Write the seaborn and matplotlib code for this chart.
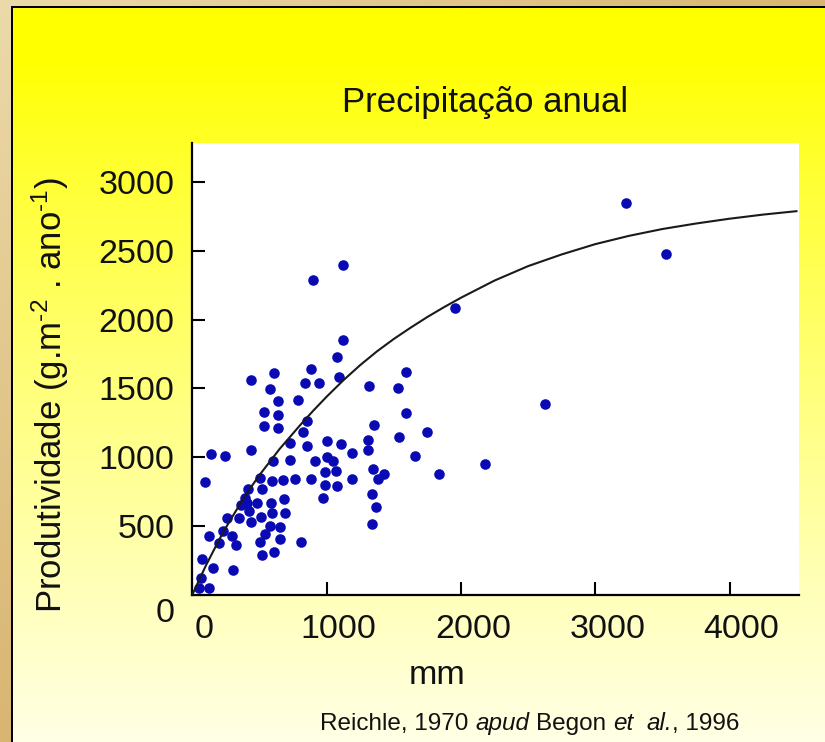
import numpy as np
import matplotlib
matplotlib.use("Agg")
import matplotlib.pyplot as plt
import seaborn as sns
from matplotlib.transforms import ScaledTranslation
from matplotlib.colors import to_rgb

# ---------------- data ----------------
precip_mm = [1120, 900, 1955, 3230, 3525, 2625, 2180, 1840, 1120, 1075,
             610, 885, 440, 835, 945, 1095, 1315, 1590, 1530, 575,
             635, 785, 1590, 530, 635, 850, 530, 635, 1350, 1750,
             825, 1540, 1005, 1305, 730, 1110, 850, 1305, 440, 1185,
             1655, 135, 240, 1000, 1045, 600, 730, 910, 1070, 985,
             1345, 1425, 1385, 95, 505, 595, 675, 765, 885, 1190,
             985, 1080, 515, 415, 1335, 975, 395, 480, 410, 680,
             585, 1365, 425, 510, 590, 690, 255, 350, 435, 1335,
             575, 655, 225, 295, 125, 540, 500, 655, 325, 200,
             810, 520, 610, 75, 155, 305, 65, 50, 125, 360]
produtividade = [2400, 2290, 2085, 2850, 2475, 1385, 950, 880, 1850, 1725,
                 1615, 1640, 1560, 1540, 1540, 1580, 1520, 1620, 1500, 1495,
                 1410, 1415, 1320, 1325, 1305, 1265, 1225, 1215, 1235, 1185,
                 1180, 1145, 1115, 1125, 1100, 1095, 1080, 1050, 1050, 1030,
                 1010, 1020, 1010, 1000, 970, 975, 980, 970, 900, 895,
                 915, 875, 840, 820, 845, 825, 835, 840, 840, 840,
                 795, 790, 770, 765, 730, 700, 700, 665, 665, 695,
                 665, 640, 610, 565, 590, 590, 560, 560, 525, 515,
                 495, 490, 460, 425, 425, 440, 380, 405, 360, 375,
                 380, 290, 310, 255, 195, 180, 120, 50, 45, 650]

curve_mm = [0, 50, 100, 150, 200, 250, 300, 400, 500, 650, 800, 900, 1000,
            1125, 1250, 1375, 1500, 1625, 1750, 1875, 2000, 2250, 2500,
            2750, 3000, 3250, 3500, 3750, 4000, 4250, 4500]
curve_prod = [0, 105, 210, 305, 400, 488, 570, 730, 870, 1060, 1230, 1338, 1440,
              1560, 1670, 1770, 1860, 1942, 2020, 2092, 2160, 2285, 2390,
              2475, 2550, 2610, 2660, 2700, 2735, 2765, 2790]

x_ticks = [0, 1000, 2000, 3000, 4000]
y_ticks = [0, 500, 1000, 1500, 2000, 2500, 3000]

title_text = "Precipitação anual"
xlabel_text = "mm"
ylabel_text = "Produtividade (g.m$^{\u2010 2}$ . ano$^{\u2010 1}$)"
source_parts = [("Reichle, 1970", "normal", 1.0),
                ("apud", "italic", 1.0),
                ("Begon", "normal", 1.0),
                ("et", "italic", 2.0),
                ("al.", "italic", 0.0),
                (", 1996", "normal", 0.0)]

# ---------------- style ----------------
sns.set_theme(style="white")
plt.rcParams["font.family"] = ["Liberation Sans", "DejaVu Sans"]
plt.rcParams["mathtext.fontset"] = "custom"
plt.rcParams["mathtext.rm"] = "Liberation Sans"
plt.rcParams["mathtext.it"] = "Liberation Sans:italic"
plt.rcParams["mathtext.bf"] = "Liberation Sans:bold"

W, H = 825, 742
fig = plt.figure(figsize=(W / 100, H / 100), dpi=100)

# ---- slide background as one pixel image: tan border, black frame, yellow panel
rows = np.arange(H)[:, None] / H
cols = np.arange(W)[None, :] / W
t = np.clip((rows + cols) * 0.75, 0, 1)[..., None]
light = np.array(to_rgb("#ECDAAA"))
dark = np.array(to_rgb("#D2A95E"))
img = light * (1 - t) + dark * t
img = np.broadcast_to(img, (H, W, 3)).copy()
fx, fy = 13, 8
fr = np.clip((np.arange(H) / H - 0.08) / 0.92, 0, 1) ** 0.85 * 0.9
img[fy:, fx:, 0] = 1.0
img[fy:, fx:, 1] = 1.0
img[fy:, fx:, 2] = fr[fy:, None]
img[fy - 2:fy, fx - 2:, :] = 0.0
img[fy - 2:, fx - 2:fx, :] = 0.0
bg = fig.add_axes([0, 0, 1, 1])
bg.set_axis_off()
bg.imshow(img, aspect="auto", interpolation="nearest", extent=[0, W, 0, H])
bg.set_xlim(0, W)
bg.set_ylim(0, H)

# main axes
x0, x1 = 192.4, 799
y0, y1 = 594.5, 143
ax = fig.add_axes([x0 / W, (H - y0) / H, (x1 - x0) / W, (y0 - y1) / H])
ax.set_facecolor("white")

sns.scatterplot(x=precip_mm, y=produtividade, color="#0A0AB5", s=58,
                linewidth=0, ax=ax, zorder=3, clip_on=False)
sns.lineplot(x=curve_mm, y=curve_prod, color="#1a1a1a", lw=1.5,
             estimator=None, sort=False, ax=ax, zorder=4)

ax.set_xlim(0, 4517)
ax.set_ylim(0, 3286)
ax.set_xticks(x_ticks)
ax.set_yticks(y_ticks)
ax.set_xticklabels([str(v) for v in x_ticks])
ax.set_yticklabels([str(v) for v in y_ticks])
ax.set_xlabel("")
ax.set_ylabel("")
ax.grid(False)
for s in ["top", "right"]:
    ax.spines[s].set_visible(False)
for s in ["left", "bottom"]:
    ax.spines[s].set_color("black")
    ax.spines[s].set_linewidth(1.6)

ax.tick_params(axis="both", direction="in", length=9.5, width=1.5,
               color="black", labelcolor="#111111", labelsize=24.5)
ax.tick_params(axis="x", bottom=True, pad=14)
ax.tick_params(axis="y", left=True, pad=13)

for lab in ax.get_xticklabels():
    lab.set_transform(lab.get_transform() +
                      ScaledTranslation(0.12, 0, fig.dpi_scale_trans))
ylabs = ax.get_yticklabels()
ylabs[0].set_transform(ylabs[0].get_transform() +
                       ScaledTranslation(0, -0.15, fig.dpi_scale_trans))

# texts
fig.text(485 / W, 1 - 112 / H, title_text, ha="center", va="baseline",
         fontsize=25, color="#111111")
fig.text(437 / W, 1 - 684 / H, xlabel_text, ha="center", va="baseline",
         fontsize=24.5, color="#111111")
fig.text(50 / W, 1 - 395 / H, ylabel_text, ha="center", va="center",
         rotation=90, fontsize=25, color="#111111")

# source line, laid out piece by piece (mixed italic)
renderer = fig.canvas.get_renderer()
src_fs = 17.5


def text_width(s, style):
    tt = fig.text(0, 0, s, fontsize=src_fs, style=style)
    w = tt.get_window_extent(renderer).width
    tt.remove()
    return w


space_w = text_width("a a", "normal") - text_width("aa", "normal")
widths = [text_width(s, st) for s, st, _ in source_parts]
total = sum(widths) + sum(g for _, _, g in source_parts) * space_w
xpos = 530 - total / 2
for (s, st, g), w in zip(source_parts, widths):
    fig.text(xpos / W, 1 - 730 / H, s, fontsize=src_fs, style=st,
             ha="left", va="baseline", color="#111111")
    xpos += w + g * space_w

fig.savefig("out.png", dpi=100)
